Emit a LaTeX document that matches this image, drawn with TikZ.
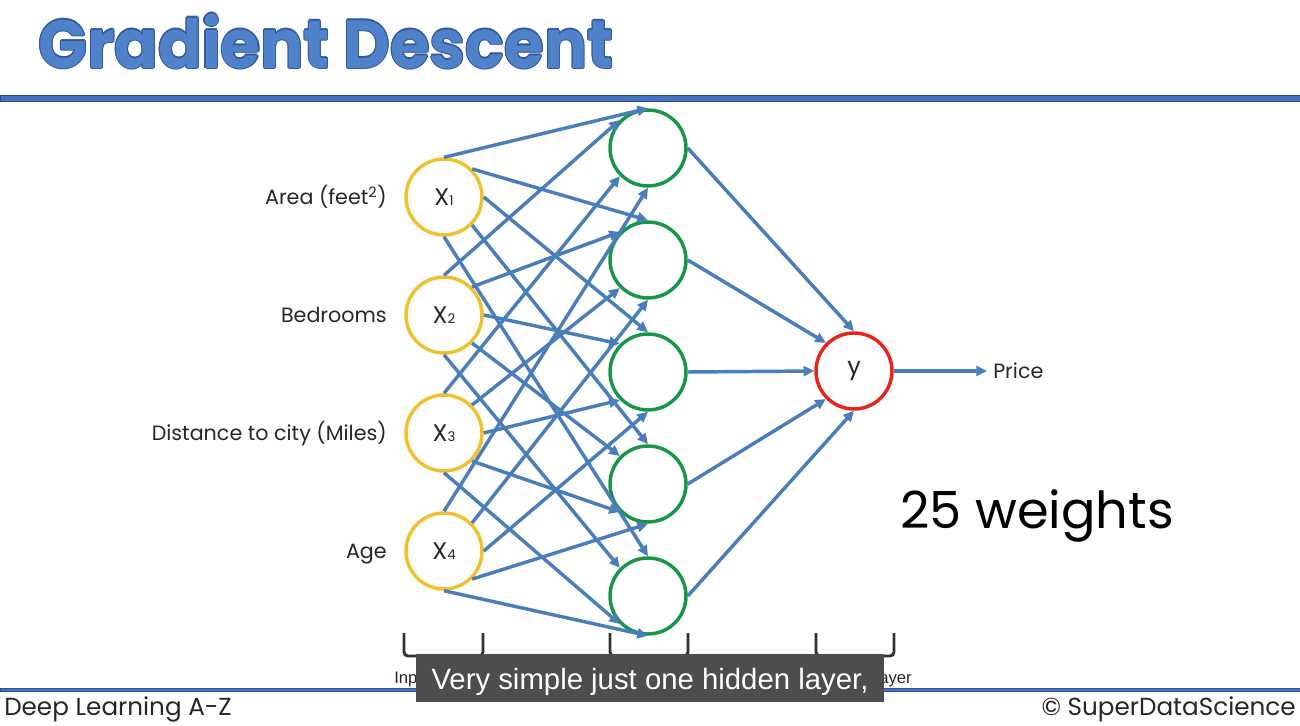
\documentclass[tikz,border=0pt]{standalone}
\usepackage{fontspec}
\setmainfont{Poppins}
\newfontfamily\capfont{Liberation Sans}
\usetikzlibrary{arrows.meta}

\definecolor{titleblue}{RGB}{80,130,202}
\definecolor{titleedge}{RGB}{50,90,158}
\definecolor{rulefill}{RGB}{70,115,194}
\definecolor{ruleedge}{RGB}{45,78,140}
\definecolor{edgeblue}{RGB}{74,126,187}
\definecolor{inyellow}{RGB}{240,193,46}
\definecolor{hidgreen}{RGB}{24,150,72}
\definecolor{outred}{RGB}{230,38,28}
\definecolor{textgrey}{RGB}{38,38,38}
\definecolor{bracketgrey}{RGB}{50,50,50}
\definecolor{capgrey}{RGB}{77,77,80}

\newcommand{\insub}[1]{X\raisebox{-0.5pt}{\fontsize{10}{10}\selectfont #1}}
\newcommand{\titletext}{\scalebox{0.945}[1]{Gradient Descent}}

\begin{document}
\begin{tikzpicture}[x=0.75pt,y=-0.75pt,
  neuron/.style={circle, draw, fill=white, line width=2.6pt, minimum size=57pt, inner sep=0pt,
                 font=\fontsize{18}{18}\selectfont, text=textgrey},
  inneuron/.style={neuron, draw=inyellow},
  hidneuron/.style={neuron, draw=hidgreen},
  outneuron/.style={neuron, draw=outred},
  link/.style={draw=edgeblue, line width=2.6pt, -{Triangle[length=8pt,width=7.5pt]}},
  feature/.style={anchor=base east, inner sep=0pt, font=\fontsize{15.5}{15.5}\selectfont, text=textgrey},
  layerlabel/.style={inner sep=0pt, font=\capfont\fontsize{12.5}{12.5}\selectfont, text=textgrey},
  bracket/.style={draw=bracketgrey, line width=2.2pt, rounded corners=3pt},
  footer/.style={inner sep=0pt, font=\fontsize{18.5}{18.5}\selectfont, text=textgrey},
  titlestyle/.style={anchor=base west, inner sep=0pt, font=\fontsize{51}{51}\selectfont\bfseries},
]
\useasboundingbox (0,0) rectangle (1300,725);

% title with a darker outline
\foreach \dx/\dy in {1.1/0,-1.1/0,0/1.1,0/-1.1,0.8/0.8,-0.8/0.8,0.8/-0.8,-0.8/-0.8}
  \node[titlestyle, text=titleedge] at (38+\dx,68+\dy) {\titletext};
\node[titlestyle, text=titleblue] (title) at (38,68) {\titletext};

% header and footer rules
\draw[fill=rulefill, draw=ruleedge, line width=0.6pt] (0,95.5) rectangle (1300,101.5);
\draw[fill=rulefill, draw=ruleedge, line width=0.5pt] (0,688.8) rectangle (1300,691.8);

% input layer
\node[inneuron] (X1) at (444,197) {\insub{1}};
\node[inneuron] (X2) at (444,315) {\insub{2}};
\node[inneuron] (X3) at (444,433) {\insub{3}};
\node[inneuron] (X4) at (444,551) {\insub{4}};

% hidden layer
\foreach \j/\yy in {1/148,2/260,3/372,4/484,5/596}
  \node[hidneuron] (H\j) at (648,\yy) {};

% output layer
\node[outneuron] (Y) at (854,371) {y};

% feature names
\node[feature] (f1) at (387,204) {Area (feet\textsuperscript{2})};
\node[feature] (f2) at (387,322) {Bedrooms};
\node[feature] (f3) at (387,440) {Distance to city (Miles)};
\node[feature] (f4) at (387,558) {Age};

% weights: input -> hidden
\foreach \i/\ha in {1/90,2/135,3/225,4/270}
  \foreach \j/\xa in {1/90,2/45,3/0,4/-45,5/-90}
    \draw[link] (X\i.\xa) -- (H\j.\ha);

% weights: hidden -> output
\foreach \j/\ya in {1/90,2/135,3/180,4/225,5/270}
  \draw[link] (H\j.0) -- (Y.\ya);

% prediction
\node[anchor=west, inner sep=4.5pt, font=\fontsize{15.5}{15.5}\selectfont, text=textgrey]
  (price) at (987,371) {Price};
\draw[link] (Y.0) -- (price.west);

\node[anchor=base west, inner sep=0pt, font=\fontsize{38.3}{38.3}\selectfont, text=black]
  (count) at (900,528) {25 weights};

% layer brackets
\draw[bracket] (404,633) -- (404,656) -- (483,656) -- (483,633);
\draw[bracket] (610,633) -- (610,656) -- (688,656) -- (688,633);
\draw[bracket] (816,633) -- (816,656) -- (894,656) -- (894,633);

\node[layerlabel, anchor=base west] (inlab) at (394,683) {Input Layer};
\node[layerlabel, anchor=base] (hidlab) at (649,683) {Hidden Layer};
\node[layerlabel, anchor=base east] (outlab) at (912,683) {Output Layer};

% subtitle caption
\fill[capgrey] (416,654) rectangle (884,702);
\node[inner sep=0pt, text=white, font=\capfont\fontsize{22}{22}\selectfont, anchor=base]
  (caption) at (650,689) {Very simple just one hidden layer,};

% footer
\node[footer, anchor=base west] (course) at (4,715) {Deep Learning A-Z};
\node[footer, anchor=base east] (brand) at (1296,715) {© SuperDataScience};
\end{tikzpicture}
\end{document}
